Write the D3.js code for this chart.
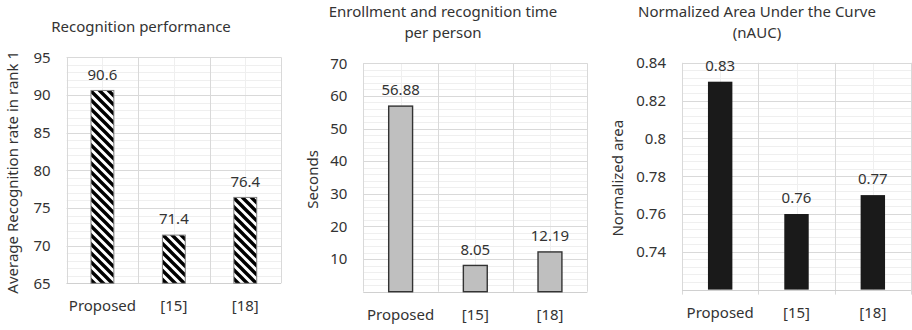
<!DOCTYPE html>
<html>
<head>
<meta charset="utf-8">
<script src="https://cdn.jsdelivr.net/npm/d3@7"></script>
<style>
  html, body { margin: 0; padding: 0; background: #fff; }
  svg { display: block; font-family: "Noto Sans", "Open Sans", sans-serif; }
</style>
</head>
<body>
<svg id="fig" width="912" height="330"></svg>
<script>
// Methods compared in every panel
const categories = ["Proposed", "[15]", "[18]"];

// Panel values
const recognitionRate = [90.6, 71.4, 76.4];
const enrollTime = [56.88, 8.05, 12.19];
const nAUC = [0.83, 0.76, 0.77];

// Tick labels of the value axes
const rateTicks = [65, 70, 75, 80, 85, 90, 95];
const timeTicks = [10, 20, 30, 40, 50, 60, 70];
const aucTicks = [0.74, 0.76, 0.78, 0.8, 0.82, 0.84];

const svg = d3.select("#fig");
const textColor = "#333";

// Wide downward-diagonal hatch used by the first panel
const defs = svg.append("defs");
const hatch = defs.append("pattern")
  .attr("id", "hatch")
  .attr("patternUnits", "userSpaceOnUse")
  .attr("width", 9).attr("height", 9);
hatch.append("rect").attr("width", 9).attr("height", 9).attr("fill", "#fff");
hatch.append("path")
  .attr("d", "M-2,-2 L11,11 M-2,7 L2,11 M7,-2 L11,2")
  .attr("stroke", "#000").attr("stroke-width", 3.4);

const panels = [
  {
    title: ["Recognition performance"], titleX: 141, titleY: 32,
    yLabel: "Average Recognition rate in rank 1", yLabelX: 13,
    left: 66.7, right: 281, top: 57.3, bottom: 283.3,
    domain: [65, 95], minorStep: 1, ticks: rateTicks, values: recognitionRate,
    fill: "url(#hatch)", stroke: "#7f7f7f", strokeWidth: 1, tickExt: 0
  },
  {
    title: ["Enrollment and recognition time", "per person"], titleX: 443, titleY: 16.5,
    yLabel: "Seconds", yLabelX: 313,
    left: 363.3, right: 587.3, top: 63.3, bottom: 291.7,
    domain: [0, 70], minorStep: 2, ticks: timeTicks, values: enrollTime,
    fill: "#bfbfbf", stroke: "#333", strokeWidth: 1.4, tickExt: 0
  },
  {
    title: ["Normalized Area Under the Curve", "(nAUC)"], titleX: 757, titleY: 16.5,
    yLabel: "Normalized area", yLabelX: 618,
    left: 682, right: 911, top: 62.8, bottom: 289.6,
    domain: [0.72, 0.84], minorStep: 0.004, ticks: aucTicks, values: nAUC,
    fill: "#1a1a1a", stroke: "none", strokeWidth: 0, tickExt: 5
  }
];

panels.forEach(p => {
  const g = svg.append("g");
  const x = d3.scaleBand().domain(categories).range([p.left, p.right]).padding(0);
  const y = d3.scaleLinear().domain(p.domain).range([p.bottom, p.top]);

  // Minor horizontal gridlines
  const nMinor = Math.round((p.domain[1] - p.domain[0]) / p.minorStep);
  const minor = d3.range(nMinor + 1).map(i => p.domain[0] + i * p.minorStep);
  g.append("g").selectAll("line").data(minor).join("line")
    .attr("x1", p.left).attr("x2", p.right)
    .attr("y1", d => Math.round(y(d)) + 0.5).attr("y2", d => Math.round(y(d)) + 0.5)
    .attr("stroke", "#efefef").attr("stroke-width", 1);

  // Minor vertical gridlines at category centres
  g.append("g").selectAll("line").data(categories).join("line")
    .attr("x1", d => Math.round(x(d) + x.bandwidth() / 2) + 0.5)
    .attr("x2", d => Math.round(x(d) + x.bandwidth() / 2) + 0.5)
    .attr("y1", p.top).attr("y2", p.bottom)
    .attr("stroke", "#efefef").attr("stroke-width", 1);

  // Major horizontal gridlines
  g.append("g").selectAll("line").data(p.ticks).join("line")
    .attr("x1", p.left).attr("x2", p.right)
    .attr("y1", d => Math.round(y(d)) + 0.5).attr("y2", d => Math.round(y(d)) + 0.5)
    .attr("stroke", "#d9d9d9").attr("stroke-width", 1);

  // Major vertical gridlines at category boundaries (incl. plot edges)
  const bounds = categories.map(c => x(c)).concat([p.right]);
  g.append("g").selectAll("line").data(bounds).join("line")
    .attr("x1", d => Math.round(d) + 0.5).attr("x2", d => Math.round(d) + 0.5)
    .attr("y1", p.top).attr("y2", p.bottom + p.tickExt)
    .attr("stroke", "#d9d9d9").attr("stroke-width", 1);

  // Bottom axis line
  g.append("line")
    .attr("x1", p.left).attr("x2", p.right)
    .attr("y1", Math.round(p.bottom) + 0.5).attr("y2", Math.round(p.bottom) + 0.5)
    .attr("stroke", "#d0d0d0").attr("stroke-width", 1);

  // Bars
  const bw = x.bandwidth() * 0.32;
  g.append("g").selectAll("rect").data(p.values).join("rect")
    .attr("x", (d, i) => x(categories[i]) + (x.bandwidth() - bw) / 2)
    .attr("y", d => y(d))
    .attr("width", bw)
    .attr("height", d => y(p.domain[0]) - y(d))
    .attr("fill", p.fill)
    .attr("stroke", p.stroke)
    .attr("stroke-width", p.strokeWidth);

  // Value labels
  g.append("g").selectAll("text").data(p.values).join("text")
    .attr("x", (d, i) => x(categories[i]) + x.bandwidth() / 2)
    .attr("y", d => y(d) - 16)
    .attr("dy", "0.35em")
    .attr("text-anchor", "middle")
    .attr("font-size", 15)
    .attr("fill", textColor)
    .text(d => String(d));

  // Value axis
  const yAxis = d3.axisLeft(y).tickValues(p.ticks).tickSize(0).tickPadding(16)
    .tickFormat(d => String(d));
  const ya = g.append("g").attr("transform", `translate(${p.left},0)`).call(yAxis);
  ya.select(".domain").remove();
  ya.selectAll("text").attr("font-size", 15).attr("fill", textColor)
    .attr("font-family", "Noto Sans, Open Sans, sans-serif");

  // Category axis
  const xAxis = d3.axisBottom(x).tickSize(0).tickPadding(0);
  const xa = g.append("g").attr("transform", `translate(0,${p.bottom})`).call(xAxis);
  xa.select(".domain").remove();
  xa.selectAll("text").attr("font-size", 15).attr("fill", textColor)
    .attr("dy", null).attr("y", 28)
    .attr("font-family", "Noto Sans, Open Sans, sans-serif");

  // Axis title
  g.append("text")
    .attr("transform", `translate(${p.yLabelX},${(p.top + p.bottom) / 2 + 2}) rotate(-90)`)
    .attr("text-anchor", "middle")
    .attr("dy", "0.35em")
    .attr("font-size", 15)
    .attr("fill", textColor)
    .text(p.yLabel);

  // Panel title
  p.title.forEach((line, i) => {
    g.append("text")
      .attr("x", p.titleX)
      .attr("y", p.titleY + i * 21)
      .attr("text-anchor", "middle")
      .attr("font-size", 15)
      .attr("fill", textColor)
      .text(line);
  });
});
</script>
</body>
</html>
